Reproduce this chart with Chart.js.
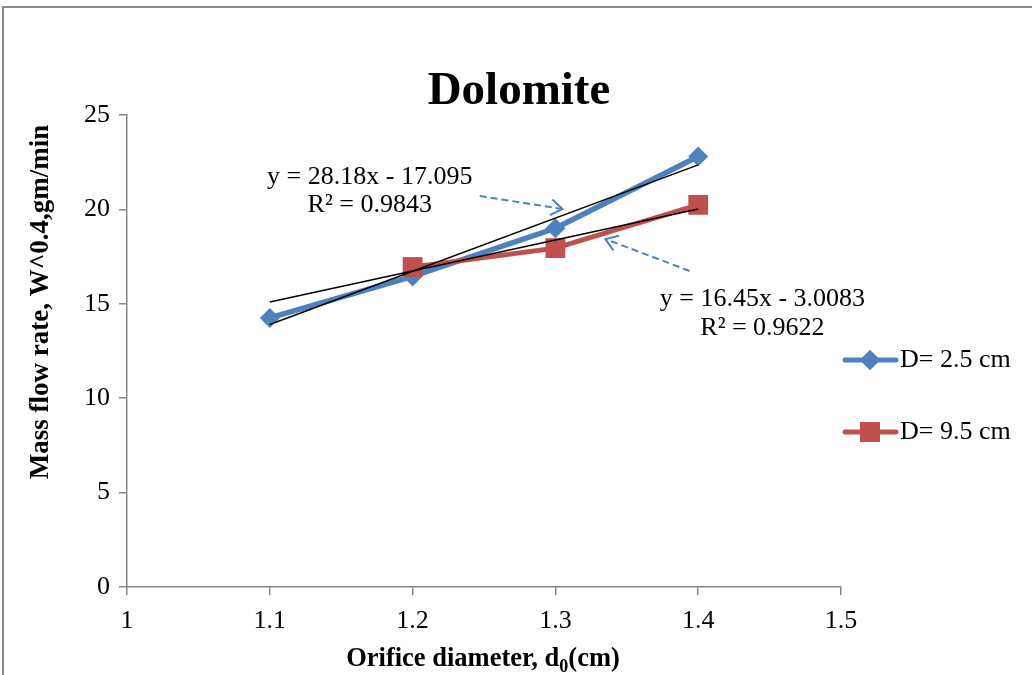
<!DOCTYPE html>
<html>
<head>
<meta charset="utf-8">
<script src="https://cdn.jsdelivr.net/npm/chart.js@4.4.0/dist/chart.umd.min.js"></script>
<style>body{margin:0;background:#fff}</style>
</head>
<body>
<canvas id="myChart" width="1032" height="675"></canvas>
<script>
// data
const xD25 = [1.1, 1.2, 1.3, 1.4];
const yD25 = [14.25, 16.45, 19.0, 22.8];
const xD95 = [1.2, 1.3, 1.4];
const yD95 = [16.95, 17.95, 20.24];
const trendX = [1.1, 1.4];
const trendD25 = [13.9, 22.36];
const trendD95 = [15.09, 20.02];
const seriesNames = ['D= 2.5 cm', 'D= 9.5 cm'];
const xTicks = [1, 1.1, 1.2, 1.3, 1.4, 1.5];
const yTicks = [0, 5, 10, 15, 20, 25];
const equations = [['y = 28.18x - 17.095', 'R² = 0.9843'], ['y = 16.45x - 3.0083', 'R² = 0.9622']];

const BLUE = '#4F81BD', RED = '#C0504D', AXIS = '#868686';
const FONT = "'Liberation Serif', 'Times New Roman', serif";

function pts(xs, ys) {
  return xs.map((x, i) => ({x: x, y: ys[i]}));
}

// annotation spots in data units: [x, y of line 1, y of line 2], arrows [x0,y0,x1,y1]
const eqSpots = [[1.17, 21.72, 20.23], [1.445, 15.25, 13.72]];
const arrowSpots = [[1.247, 20.71, 1.305, 20.02], [1.394, 16.74, 1.335, 18.43]];

const extras = {
  id: 'extras',
  afterDraw(chart) {
    const ctx = chart.ctx, xs = chart.scales.x, ys = chart.scales.y;
    ctx.save();
    // outer frame
    ctx.strokeStyle = '#8a8a8a'; ctx.lineWidth = 2;
    ctx.beginPath(); ctx.moveTo(3, 675); ctx.lineTo(3, 7); ctx.lineTo(1032, 7); ctx.stroke();

    ctx.fillStyle = '#000';
    ctx.textAlign = 'center'; ctx.textBaseline = 'middle';
    ctx.font = 'bold 47px ' + FONT;
    ctx.fillText('Dolomite', 519, 92);

    // y title
    ctx.save();
    ctx.translate(41, 302); ctx.rotate(-Math.PI / 2);
    ctx.font = 'bold 27px ' + FONT;
    ctx.fillText('Mass flow rate, W^0.4,gm/min', 0, 0);
    ctx.restore();

    // x title with subscript
    const a = 'Orifice diameter, d', b = '0', c = '(cm)';
    ctx.font = 'bold 26.5px ' + FONT;
    const wa = ctx.measureText(a).width, wc = ctx.measureText(c).width;
    ctx.font = 'bold 18px ' + FONT;
    const wb = ctx.measureText(b).width;
    let x0 = 483 - (wa + wb + wc) / 2;
    ctx.textAlign = 'left'; ctx.textBaseline = 'alphabetic';
    ctx.font = 'bold 26.5px ' + FONT;
    ctx.fillText(a, x0, 666);
    ctx.font = 'bold 18px ' + FONT;
    ctx.fillText(b, x0 + wa, 672);
    ctx.font = 'bold 26.5px ' + FONT;
    ctx.fillText(c, x0 + wa + wb, 666);

    // equations
    ctx.textAlign = 'center'; ctx.textBaseline = 'middle';
    ctx.font = '26px ' + FONT;
    equations.forEach((eq, i) => {
      const s = eqSpots[i];
      ctx.fillText(eq[0], xs.getPixelForValue(s[0]), ys.getPixelForValue(s[1]));
      ctx.fillText(eq[1], xs.getPixelForValue(s[0]), ys.getPixelForValue(s[2]));
    });

    // dashed arrows
    ctx.strokeStyle = BLUE; ctx.lineWidth = 2;
    arrowSpots.forEach(s => {
      const px0 = xs.getPixelForValue(s[0]), py0 = ys.getPixelForValue(s[1]);
      const px1 = xs.getPixelForValue(s[2]), py1 = ys.getPixelForValue(s[3]);
      ctx.setLineDash([7, 4]);
      ctx.beginPath(); ctx.moveTo(px0, py0); ctx.lineTo(px1, py1); ctx.stroke();
      ctx.setLineDash([]);
      const ang = Math.atan2(py1 - py0, px1 - px0);
      ctx.beginPath();
      ctx.moveTo(px1 - 14 * Math.cos(ang - 0.6), py1 - 14 * Math.sin(ang - 0.6));
      ctx.lineTo(px1, py1);
      ctx.lineTo(px1 - 14 * Math.cos(ang + 0.6), py1 - 14 * Math.sin(ang + 0.6));
      ctx.stroke();
    });

    // legend
    [chart.data.datasets[0], chart.data.datasets[1]].forEach((ds, i) => {
      const ly = 360 + i * 72;
      ctx.strokeStyle = ds.borderColor; ctx.lineWidth = 5; ctx.lineCap = 'round';
      ctx.beginPath(); ctx.moveTo(845, ly); ctx.lineTo(896, ly); ctx.stroke();
      ctx.fillStyle = ds.borderColor;
      ctx.beginPath();
      Chart.helpers.drawPoint(ctx, {pointStyle: ds.pointStyle, radius: ds.pointRadius, borderWidth: 0}, 870, ly);
      ctx.fill();
      ctx.fillStyle = '#000';
      ctx.textAlign = 'left'; ctx.textBaseline = 'middle';
      ctx.font = '26px ' + FONT;
      ctx.fillText(seriesNames[i], 900, ly);
    });
    ctx.restore();
  }
};

const data = {
  datasets: [
    {label: seriesNames[0], data: pts(xD25, yD25), borderColor: BLUE, backgroundColor: BLUE,
     borderWidth: 5.5, pointStyle: 'rectRot', pointRadius: 10, pointBorderWidth: 0, order: 2},
    {label: seriesNames[1], data: pts(xD95, yD95), borderColor: RED, backgroundColor: RED,
     borderWidth: 5, pointStyle: 'rect', pointRadius: 14, pointBorderWidth: 0, order: 1},
    {label: 'trend1', data: pts(trendX, trendD25), borderColor: '#000', borderWidth: 1.5, pointRadius: 0, order: 0},
    {label: 'trend2', data: pts(trendX, trendD95), borderColor: '#000', borderWidth: 1.5, pointRadius: 0, order: 0}
  ]
};

const config = {
  type: 'line',
  data: data,
  options: {
    responsive: false,
    animation: false,
    layout: {padding: {left: 0, top: 115, right: 191, bottom: 0}},
    plugins: {legend: {display: false}, title: {display: false}, tooltip: {enabled: false}},
    scales: {
      x: {
        type: 'linear', min: 1, max: 1.5,
        afterBuildTicks: s => { s.ticks = xTicks.map(v => ({value: v})); },
        afterFit: s => { s.height = 88; },
        grid: {drawOnChartArea: false, drawTicks: true, tickLength: 8, color: AXIS, lineWidth: 1.5},
        border: {color: AXIS, width: 1.5},
        ticks: {color: '#000', font: {family: FONT, size: 26}, padding: 11, maxRotation: 0,
                callback: v => String(Math.round(v * 10) / 10)}
      },
      y: {
        min: 0, max: 25,
        afterBuildTicks: s => { s.ticks = yTicks.map(v => ({value: v})); },
        afterFit: s => { s.width = 127; },
        grid: {drawOnChartArea: false, drawTicks: true, tickLength: 8, color: AXIS, lineWidth: 1.5},
        border: {color: AXIS, width: 1.5},
        ticks: {color: '#000', font: {family: FONT, size: 26}, padding: 9}
      }
    }
  },
  plugins: [extras]
};

new Chart(document.getElementById('myChart'), config);
</script>
</body>
</html>
